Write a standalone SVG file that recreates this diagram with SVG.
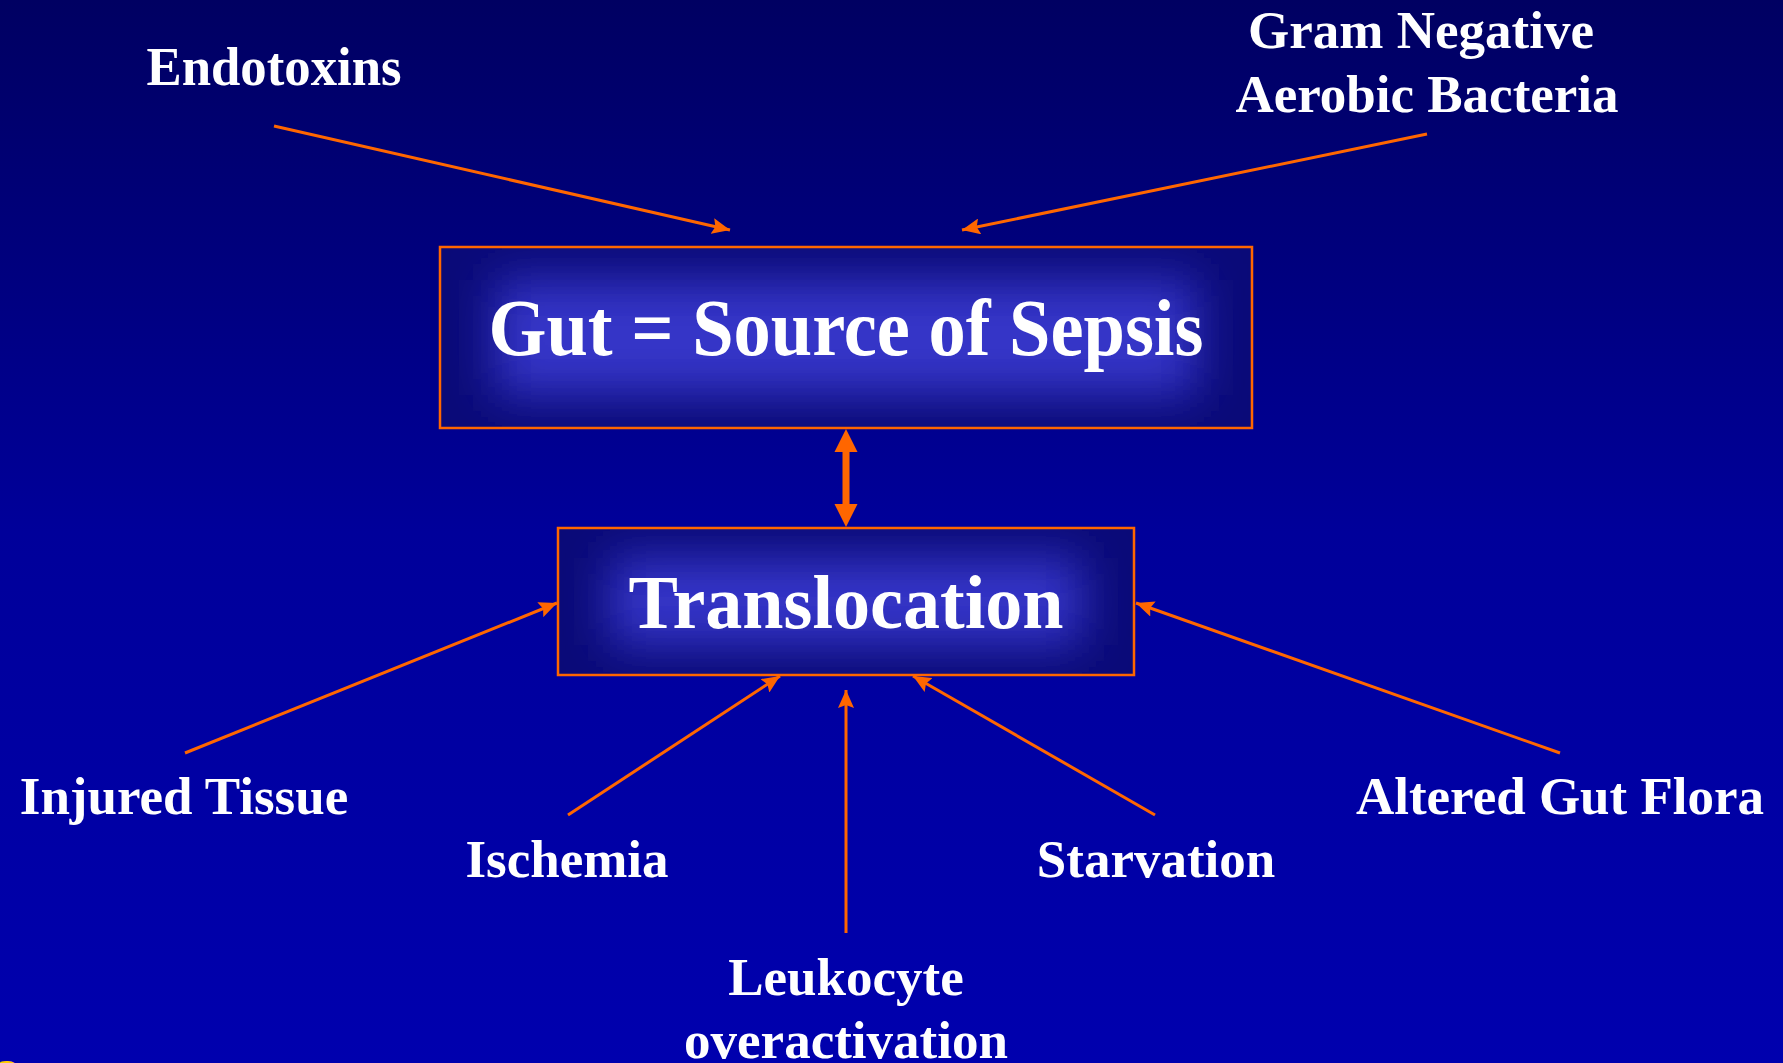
<svg xmlns="http://www.w3.org/2000/svg" width="1783" height="1063" viewBox="0 0 1783 1063">
  <defs>
    <linearGradient id="bg" x1="0" y1="0" x2="0" y2="1">
      <stop offset="0" stop-color="#000062"/>
      <stop offset="0.5" stop-color="#00009A"/>
      <stop offset="1" stop-color="#0000AE"/>
    </linearGradient>
    <filter id="glow" x="-20%" y="-40%" width="140%" height="180%">
      <feGaussianBlur stdDeviation="24"/>
    </filter>
    <clipPath id="clipGut"><rect x="440" y="247" width="812" height="181"/></clipPath>
    <clipPath id="clipTrans"><rect x="558" y="528" width="576" height="147"/></clipPath>
    <marker id="arr" markerUnits="userSpaceOnUse" markerWidth="20" markerHeight="16" refX="18" refY="8" orient="auto">
      <path d="M0,0 L18,8 L0,16 L3,8 z" fill="#FF6600"/>
    </marker>
    <style>
      .lbl { font-family: "Liberation Serif", "Times New Roman", serif; font-weight: bold; fill: #FFFFFF; text-anchor: middle; }
      .conn { stroke: #FF6600; stroke-width: 3; fill: none; marker-end: url(#arr); }
      .box { fill: none; stroke: #FF6600; stroke-width: 2.5; }
    </style>
  </defs>

  <rect x="0" y="0" width="1783" height="1063" fill="url(#bg)"/>

  <g id="node-gut">
    <rect x="440" y="247" width="812" height="181" fill="#0A0A78"/>
    <g clip-path="url(#clipGut)">
      <rect x="495" y="280" width="702" height="115" fill="#3434C8" filter="url(#glow)"/>
    </g>
    <rect class="box" x="440" y="247" width="812" height="181"/>
    <text class="lbl" x="846" y="355" font-size="80" textLength="715" lengthAdjust="spacingAndGlyphs">Gut = Source of Sepsis</text>
  </g>

  <g id="node-translocation">
    <rect x="558" y="528" width="576" height="147" fill="#0A0A78"/>
    <g clip-path="url(#clipTrans)">
      <rect x="610" y="558" width="472" height="87" fill="#3434C8" filter="url(#glow)"/>
    </g>
    <rect class="box" x="558" y="528" width="576" height="147"/>
    <text class="lbl" x="846" y="628" font-size="76" textLength="435" lengthAdjust="spacingAndGlyphs">Translocation</text>
  </g>

  <g id="node-endotoxins">
    <text class="lbl" x="274" y="85" font-size="55" textLength="255" lengthAdjust="spacingAndGlyphs">Endotoxins</text>
  </g>
  <g id="node-gram">
    <text class="lbl" x="1421" y="48" font-size="53">Gram Negative</text>
    <text class="lbl" x="1427" y="112" font-size="53">Aerobic Bacteria</text>
  </g>
  <g id="node-injured">
    <text class="lbl" x="184" y="814" font-size="53">Injured Tissue</text>
  </g>
  <g id="node-ischemia">
    <text class="lbl" x="567" y="877" font-size="53">Ischemia</text>
  </g>
  <g id="node-leukocyte">
    <text class="lbl" x="846" y="995" font-size="53">Leukocyte</text>
    <text class="lbl" x="846" y="1058" font-size="53">overactivation</text>
  </g>
  <g id="node-starvation">
    <text class="lbl" x="1156" y="877" font-size="53">Starvation</text>
  </g>
  <g id="node-altered">
    <text class="lbl" x="1560" y="814" font-size="53">Altered Gut Flora</text>
  </g>

  <g id="connectors">
    <line class="conn" x1="274" y1="126" x2="730" y2="230"/>
    <line class="conn" x1="1427" y1="134" x2="962" y2="230"/>
    <line class="conn" x1="185" y1="753" x2="557" y2="603"/>
    <line class="conn" x1="568" y1="815" x2="780" y2="676"/>
    <line class="conn" x1="846" y1="933" x2="846" y2="690"/>
    <line class="conn" x1="1155" y1="815" x2="913" y2="676"/>
    <line class="conn" x1="1560" y1="753" x2="1136" y2="603"/>
    <path id="double-arrow" d="M846,429 L857.5,452 L849.5,452 L849.5,504 L857.5,504 L846,527 L834.5,504 L842.5,504 L842.5,452 L834.5,452 z" fill="#FF6600"/>
  </g>

  <text x="-3" y="1092" font-family="Liberation Serif, serif" font-size="46" fill="#FFCC00">2</text>
</svg>
